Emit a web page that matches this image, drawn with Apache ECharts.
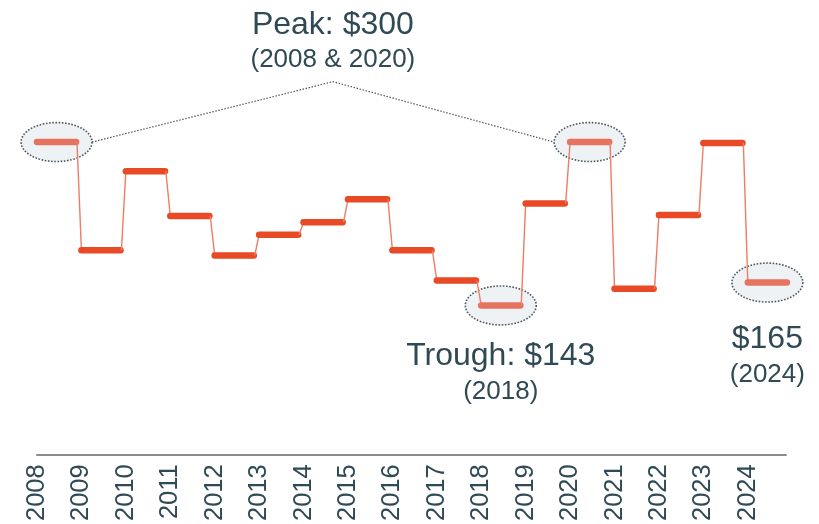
<!DOCTYPE html>
<html>
<head>
    <meta charset="UTF-8">
    <title>Price history</title>
    <script src="https://cdn.jsdelivr.net/npm/echarts@6/dist/echarts.min.js"></script>
    <style>
        html, body { margin: 0; padding: 0; background: #fff; }
        #main { width: 819px; height: 524px; }
    </style>
</head>
<body>
    <div id="main"></div>
    <script>
        // data
        var years = [2008, 2009, 2010, 2011, 2012, 2013, 2014, 2015, 2016, 2017, 2018, 2019, 2020, 2021, 2022, 2023, 2024];
        var prices = [300, 196, 272, 229, 191, 211, 223, 245, 196, 167, 143, 241, 300, 159, 230, 299, 165];
        var highlightYears = [2008, 2018, 2020, 2024];

        var font = "'Liberation Sans', Arial, sans-serif";
        var textColor = '#2F4A55';
        var barColor = '#E84A25';
        var hlColor = '#E5735F';

        var stepData = years.map(function (y, i) { return [y, prices[i]]; });
        var hlData = highlightYears.map(function (y) { return [y, prices[years.indexOf(y)]]; });

        function ellipsePoints(cx, cy, rx, ry) {
            var pts = [];
            for (var k = 0; k < 72; k++) {
                var t = k / 72 * Math.PI * 2;
                pts.push([cx + rx * Math.cos(t), cy + ry * Math.sin(t)]);
            }
            return pts;
        }

        function renderStep(params, api) {
            var year = api.value(0), v = api.value(1);
            var i = params.dataIndex;
            var a = api.coord([year, v]);
            var b = api.coord([year + 0.88, v]);
            var hl = highlightYears.indexOf(year) >= 0;
            var kids = [];
            if (i > 0) {
                var p = api.coord([year - 1 + 0.9, prices[i - 1]]);
                kids.push({
                    type: 'line',
                    shape: { x1: p[0], y1: p[1], x2: a[0], y2: a[1] },
                    style: { stroke: '#EE7C66', lineWidth: 1.4 }
                });
            }
            kids.push({
                type: 'line',
                shape: { x1: a[0], y1: a[1], x2: b[0], y2: b[1] },
                style: { stroke: hl ? hlColor : barColor, lineWidth: 6.5, lineCap: 'round' }
            });
            return { type: 'group', children: kids };
        }

        function renderRing(params, api) {
            var c = api.coord([api.value(0) + 0.44, api.value(1)]);
            return {
                type: 'polygon',
                shape: { points: ellipsePoints(c[0], c[1], 35.5, 19.5) },
                style: { fill: '#EEF2F5', stroke: '#4A5760', lineWidth: 1.6, lineDash: [1.6, 1.6] }
            };
        }

        var myChart = echarts.init(document.getElementById('main'));

        var option = {
            animation: false,
            grid: { left: 37, right: 33, top: 38, bottom: 68 },
            xAxis: {
                type: 'value',
                min: 2008,
                max: 2024.86,
                interval: 1,
                axisLine: { show: true, onZero: false, lineStyle: { color: '#8C8C8C', width: 2 } },
                axisTick: { show: false },
                splitLine: { show: false },
                axisLabel: {
                    rotate: 90,
                    margin: 10,
                    showMaxLabel: false,
                    color: textColor,
                    fontSize: 25.5,
                    fontFamily: font,
                    formatter: function (v) { return String(v); }
                }
            },
            yAxis: {
                type: 'value',
                min: 0,
                max: 400,
                show: false
            },
            series: [
                {
                    type: 'custom',
                    name: 'rings',
                    z: 1,
                    renderItem: renderRing,
                    data: hlData
                },
                {
                    type: 'custom',
                    name: 'price',
                    z: 2,
                    renderItem: renderStep,
                    data: stepData
                }
            ]
        };

        myChart.setOption(option);

        // annotations, placed from the data points
        function px(pt) { return myChart.convertToPixel({ gridIndex: 0 }, pt); }
        var p08 = px([2008.44, 300]);
        var p20 = px([2020.44, 300]);
        var apex = px([2014.66, 358]);
        var p18 = px([2018.44, 143]);
        var p24 = px([2024.44, 165]);

        function label(x, y, txt, size) {
            return {
                type: 'text', x: x, y: y, z: 10,
                style: { text: txt, fill: textColor, font: size + 'px ' + font, align: 'center', verticalAlign: 'middle' }
            };
        }

        myChart.setOption({
            graphic: [
                {
                    type: 'polyline', z: 0,
                    shape: { points: [[p08[0] + 35.5, p08[1]], apex, [p20[0] - 35.5, p20[1]]] },
                    style: { stroke: '#4A5760', lineWidth: 1.2, lineDash: [1.5, 1.6], fill: null }
                },
                label(apex[0], apex[1] - 57, 'Peak: $300', 32),
                label(apex[0], apex[1] - 22, '(2008 & 2020)', 26),
                label(p18[0], p18[1] + 51, 'Trough: $143', 32),
                label(p18[0], p18[1] + 86, '(2018)', 26),
                label(p24[0], p24[1] + 57, '$165', 32),
                label(p24[0], p24[1] + 92, '(2024)', 26)
            ]
        });
    </script>
</body>
</html>
